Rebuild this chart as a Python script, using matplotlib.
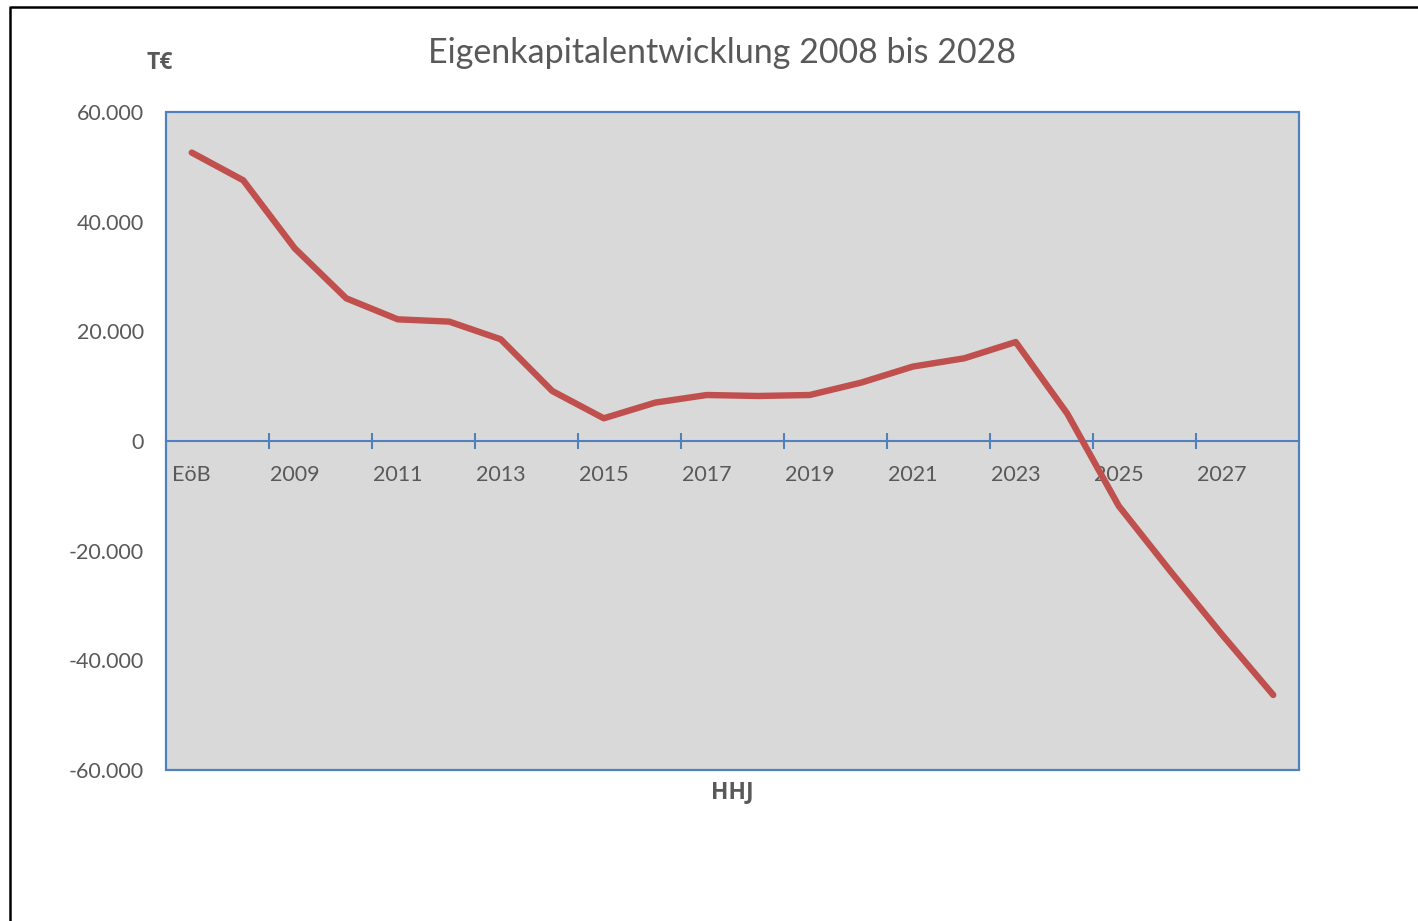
import numpy as np
import matplotlib.pyplot as plt
from matplotlib.lines import Line2D
from matplotlib.patches import Rectangle
from matplotlib.ticker import FuncFormatter

plt.rcParams['font.family'] = ['Lato', 'DejaVu Sans']

# equity per budget year (T€), EöB = opening balance
years = ['EöB'] + [str(y) for y in range(2008, 2029)]
equity = [52600, 47540, 35140, 26020, 22190, 21770, 18550, 9120, 4140, 7000,
          8390, 8210, 8390, 10650, 13570, 15080, 18050, 5000, -11850, -23710,
          -35250, -46320]
yticks = [60000, 40000, 20000, 0, -20000, -40000, -60000]

grey = '#595959'
blue = '#4f81bd'
red = '#c0504d'

fig = plt.figure(figsize=(14.18, 9.21), dpi=100)
ax = fig.add_axes([166/1418, 1 - 770/921, 1133/1418, 658/921])
ax.set_facecolor('#d9d9d9')

x = np.arange(len(years))
ax.plot(x, equity, color=red, lw=4.6, solid_capstyle='round', solid_joinstyle='round', zorder=3)

ax.set_xlim(-0.5, len(years) - 0.5)
ax.set_ylim(-60000, 60000)

# frame around the plot area
for s in ['top', 'left', 'right']:
    ax.spines[s].set_visible(False)
ax.add_patch(Rectangle((0, 0), 1, 1, transform=ax.transAxes, fill=False,
                       edgecolor=blue, lw=1.6, clip_on=False, zorder=4))

# category axis sits on the zero line
ax.spines['bottom'].set_position(('data', 0))
ax.spines['bottom'].set_color(blue)
ax.spines['bottom'].set_linewidth(1.5)
ax.spines['bottom'].set_zorder(2)
ax.set_xticks(np.arange(1.5, len(years) - 1, 2))
ax.set_xticklabels([])
ax.tick_params(axis='x', which='major', direction='inout', length=12, width=1.5, color=blue)
ax.set_xticks(x[::2], minor=True)
ax.set_xticklabels(years[::2], minor=True)
ax.tick_params(axis='x', which='minor', length=0, pad=17, labelsize=15.5, labelcolor=grey)

ax.set_yticks(yticks)
ax.yaxis.set_major_formatter(FuncFormatter(lambda v, p: f'{v:,.0f}'.replace(',', '.')))
ax.tick_params(axis='y', length=0, pad=16, labelsize=15.5, labelcolor=grey)

fig.text(722/1418, 1 - 53/921, 'Eigenkapitalentwicklung 2008 bis 2028',
         ha='center', va='center', fontsize=24.5, color=grey)
bold = ['Open Sans', 'DejaVu Sans']
fig.text(160/1418, 1 - 63/921, 'T€', ha='center', va='center', family=bold,
         fontsize=16.5, fontweight='bold', color=grey)
fig.text(732/1418, 1 - 792/921, 'HHJ', ha='center', va='center', family=bold,
         fontsize=16.5, fontweight='bold', color=grey)

# outer border on the left and top
fig.add_artist(Line2D([10/1418, 10/1418, 1], [0, 1 - 7/921, 1 - 7/921],
                      transform=fig.transFigure, color='black', lw=1.8))

fig.savefig('out.png', dpi=100)
